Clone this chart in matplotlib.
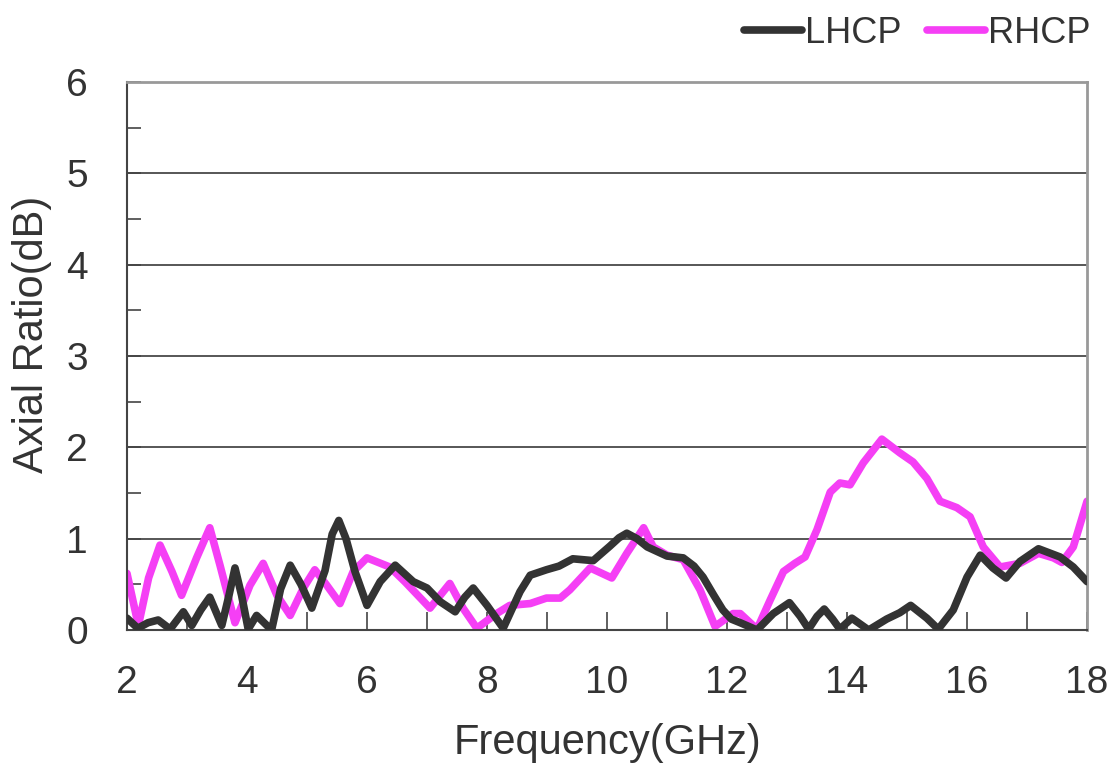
import numpy as np
import matplotlib.pyplot as plt
from matplotlib.ticker import MultipleLocator

plt.rcParams['font.family'] = ['Liberation Sans', 'DejaVu Sans']

# LHCP curve
lhcp_f = [2.0, 2.18, 2.35, 2.52, 2.72, 2.94, 3.08, 3.23, 3.38, 3.58, 3.7, 3.8,
          3.91, 4.02, 4.16, 4.41, 4.56, 4.72, 4.9, 5.08, 5.3, 5.42, 5.53, 5.65,
          5.8, 6.0, 6.22, 6.47, 6.77, 7.0, 7.22, 7.47, 7.63, 7.77, 8.0, 8.27,
          8.55, 8.72, 8.99, 9.2, 9.43, 9.77, 10.05, 10.2, 10.33, 10.5, 10.67,
          11.0, 11.27, 11.45, 11.6, 11.78, 11.93, 12.07, 12.22, 12.5, 12.77,
          13.04, 13.22, 13.36, 13.5, 13.62, 13.76, 13.88, 14.08, 14.36, 14.66,
          14.88, 15.06, 15.33, 15.52, 15.77, 16.0, 16.22, 16.43, 16.65, 16.88,
          17.19, 17.55, 17.77, 18.0]
lhcp_ar = [0.13, 0.02, 0.08, 0.11, 0.01, 0.2, 0.05, 0.22, 0.36, 0.05, 0.38, 0.68,
           0.38, 0.01, 0.16, 0.0, 0.45, 0.71, 0.5, 0.24, 0.65, 1.05, 1.2, 1.0,
           0.64, 0.27, 0.53, 0.71, 0.53, 0.46, 0.31, 0.2, 0.36, 0.46, 0.27, 0.02,
           0.42, 0.6, 0.66, 0.7, 0.78, 0.76, 0.92, 1.01, 1.06, 1.0, 0.91,
           0.81, 0.79, 0.7, 0.58, 0.38, 0.22, 0.12, 0.08, 0.0, 0.18,
           0.3, 0.15, 0.01, 0.15, 0.23, 0.12, 0.01, 0.13, 0.0, 0.12,
           0.19, 0.27, 0.13, 0.01, 0.22, 0.58, 0.82, 0.68, 0.57, 0.75,
           0.89, 0.8, 0.69, 0.53]

# RHCP curve
rhcp_f = [2.0, 2.19, 2.36, 2.55, 2.75, 2.91, 3.16, 3.38, 3.55, 3.8, 4.05, 4.27,
          4.5, 4.72, 4.94, 5.13, 5.33, 5.55, 5.77, 6.0, 6.38, 6.63, 7.05, 7.38,
          7.6, 7.83, 8.16, 8.38, 8.72, 8.99, 9.22, 9.38, 9.72, 10.08, 10.33,
          10.61, 10.77, 11.0, 11.27, 11.55, 11.8, 12.1, 12.22, 12.5, 12.72,
          12.94, 13.13, 13.3, 13.5, 13.72, 13.88, 14.05, 14.27, 14.58, 14.88,
          15.1, 15.33, 15.55, 15.83, 16.05, 16.27, 16.55, 16.88, 17.19, 17.44,
          17.58, 17.77, 18.0]
rhcp_ar = [0.62, 0.05, 0.57, 0.93, 0.64, 0.38, 0.79, 1.12, 0.71, 0.08, 0.49, 0.73,
           0.38, 0.16, 0.46, 0.66, 0.49, 0.29, 0.64, 0.79, 0.69, 0.53, 0.24, 0.51,
           0.24, 0.02, 0.18, 0.27, 0.29, 0.35, 0.35, 0.44, 0.68, 0.57, 0.84,
           1.12, 0.91, 0.82, 0.77, 0.44, 0.04, 0.18, 0.18, 0.01, 0.33,
           0.64, 0.73, 0.8, 1.1, 1.51, 1.61, 1.59, 1.83, 2.09, 1.94,
           1.84, 1.66, 1.41, 1.34, 1.24, 0.91, 0.69, 0.73, 0.84, 0.79,
           0.74, 0.91, 1.41]

fig = plt.figure(figsize=(11.07, 7.74), dpi=100)
ax = fig.add_axes([0.1147, 0.186, 0.8673, 0.708])

for y in range(1, 6):
    ax.axhline(y, color='#3a3a3a', lw=1.2, zorder=1)

ax.plot(lhcp_f, lhcp_ar, color='#333333', lw=5.5, solid_joinstyle='round',
        solid_capstyle='round', label='LHCP', zorder=3)
ax.plot(rhcp_f, rhcp_ar, color='#f53ff5', lw=5.5, solid_joinstyle='round',
        solid_capstyle='round', label='RHCP', zorder=2)

ax.set_xlim(2, 18)
ax.set_ylim(0, 6)
ax.xaxis.set_major_locator(MultipleLocator(2))
ax.xaxis.set_minor_locator(MultipleLocator(1))
ax.yaxis.set_major_locator(MultipleLocator(1))
ax.yaxis.set_minor_locator(MultipleLocator(0.5))
ax.tick_params(axis='both', which='both', direction='in', colors='#444444',
               labelcolor='#333333', labelsize=28, width=1.2)
ax.tick_params(axis='x', which='both', length=13, pad=25)
ax.tick_params(axis='y', which='both', length=10, pad=28)
ax.tick_params(right=False, top=False)

for s in ['left', 'bottom']:
    ax.spines[s].set_color('#444444')
    ax.spines[s].set_linewidth(1.5)
for s in ['right', 'top']:
    ax.spines[s].set_color('#999999')
    ax.spines[s].set_linewidth(2)

ax.set_xlabel('Frequency(GHz)', fontsize=30, color='#333333', labelpad=16)
ax.set_ylabel('Axial Ratio(dB)', fontsize=30, color='#333333', labelpad=10, y=0.54)

ax.legend(loc='center right', bbox_to_anchor=(1.004, 1.089), ncol=2, frameon=False,
          fontsize=26, handlelength=1.6, handletextpad=0.1, columnspacing=0.7,
          labelcolor='#333333', borderaxespad=0, borderpad=0)

fig.savefig('out.png', dpi=100)
